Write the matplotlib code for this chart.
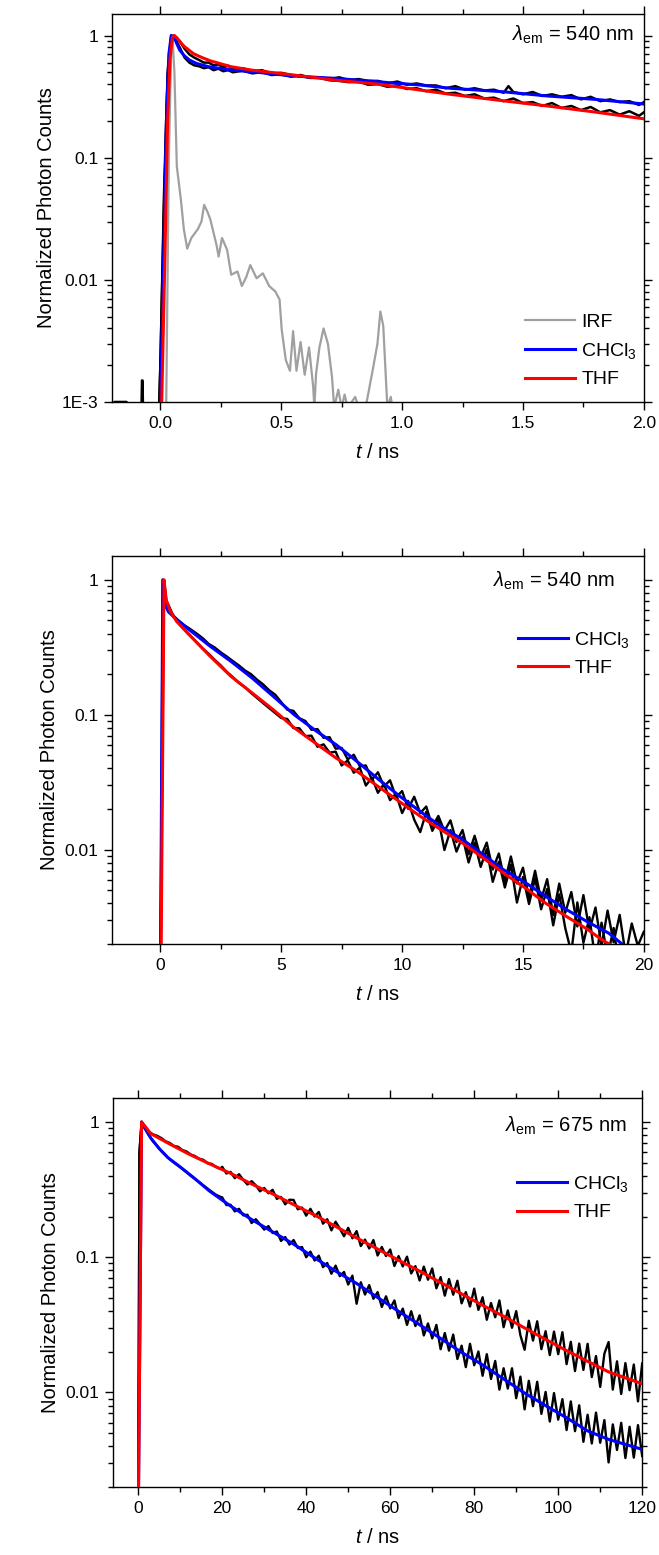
import numpy as np
import matplotlib.pyplot as plt
from matplotlib.ticker import FixedLocator, FixedFormatter, LogLocator, MultipleLocator, NullFormatter

plt.rcParams['font.family'] = ['Liberation Sans', 'DejaVu Sans']
plt.rcParams['mathtext.fontset'] = 'custom'
plt.rcParams['mathtext.rm'] = 'Liberation Sans'
plt.rcParams['mathtext.it'] = 'Liberation Sans:italic'

# ---- panel 1 : short time window (em 540 nm) ----
p1_irf_t = [0.024, 0.035, 0.045, 0.05, 0.058, 0.068, 0.085, 0.097, 0.111, 0.128, 0.155, 0.17, 0.181,
            0.195, 0.207, 0.233, 0.241, 0.255, 0.276, 0.293, 0.319, 0.337, 0.355, 0.372, 0.398, 0.424,
            0.45, 0.476, 0.493, 0.502, 0.519, 0.536, 0.549, 0.563, 0.58, 0.597, 0.615, 0.632, 0.637,
            0.644, 0.658, 0.675, 0.693, 0.71, 0.719, 0.736, 0.75, 0.762, 0.775, 0.806, 0.82, 0.849,
            0.863, 0.88, 0.898, 0.91, 0.922, 0.932, 0.939, 0.953, 0.96]
p1_irf = [0.0009, 0.1, 0.8, 1.0, 0.5, 0.085, 0.045, 0.026, 0.018, 0.022, 0.026, 0.03, 0.041,
          0.036, 0.031, 0.019, 0.0155, 0.022, 0.0176, 0.011, 0.0117, 0.0089, 0.0105, 0.0132, 0.0103, 0.0113,
          0.0089, 0.008, 0.0069, 0.0039, 0.0022, 0.0018, 0.0038, 0.0018, 0.0031, 0.00167, 0.0028, 0.00134, 0.0009,
          0.0017, 0.0028, 0.004, 0.003, 0.0016, 0.0009, 0.00126, 0.0009, 0.00115, 0.0009, 0.0011, 0.0009, 0.0009,
          0.00126, 0.0019, 0.003, 0.0055, 0.0042, 0.0017, 0.0009, 0.0011, 0.0009]

p1_chcl3_fit_t = [0.0, 0.015, 0.025, 0.035, 0.045, 0.06, 0.08, 0.1, 0.12, 0.15, 0.2, 0.3, 0.38, 0.55,
                  0.73, 0.9, 1.075, 1.2, 1.42, 1.6, 1.8, 2.0]
p1_chcl3_fit = [0.0009, 0.02, 0.2, 0.7, 1.0, 0.93, 0.76, 0.68, 0.63, 0.59, 0.555, 0.52, 0.505, 0.466,
                0.445, 0.418, 0.393, 0.37, 0.346, 0.32, 0.30, 0.275]
p1_thf_fit_t = [0.005, 0.02, 0.03, 0.04, 0.05, 0.058, 0.07, 0.085, 0.1, 0.137, 0.172, 0.207, 0.293, 0.38,
                0.554, 0.727, 0.9, 1.0, 1.2, 1.4, 1.6, 1.8, 2.0]
p1_thf_fit = [0.0009, 0.02, 0.2, 0.65, 0.97, 1.0, 0.95, 0.87, 0.81, 0.71, 0.66, 0.62, 0.555, 0.52,
              0.474, 0.43, 0.40, 0.375, 0.33, 0.295, 0.265, 0.236, 0.208]

p1_data_chcl3_t = [-0.2, -0.19, -0.14, -0.135, -0.078, -0.076, -0.074, -0.072, -0.005, 0.0, 0.015, 0.03, 0.045,
                   0.06, 0.08, 0.1, 0.12, 0.14, 0.16, 0.18, 0.2, 0.22, 0.24, 0.26, 0.28, 0.3, 0.34, 0.38,
                   0.42, 0.46, 0.5, 0.54, 0.58, 0.62, 0.66, 0.7, 0.74, 0.78, 0.82, 0.86, 0.9, 0.94, 0.98,
                   1.02, 1.06, 1.1, 1.14, 1.18, 1.22, 1.26, 1.3, 1.34, 1.38, 1.42, 1.44, 1.46, 1.5, 1.54,
                   1.58, 1.62, 1.66, 1.7, 1.74, 1.78, 1.82, 1.86, 1.9, 1.94, 1.98, 2.0]
p1_data_chcl3 = [0.0009, 0.001, 0.001, 0.0009, 0.0009, 0.0015, 0.0015, 0.0009, 0.0009, 0.002, 0.05, 0.5, 1.0,
                 0.95, 0.8, 0.66, 0.6, 0.57, 0.56, 0.54, 0.55, 0.52, 0.535, 0.51, 0.52, 0.5, 0.515, 0.49,
                 0.5, 0.475, 0.48, 0.46, 0.475, 0.45, 0.455, 0.44, 0.455, 0.43, 0.44, 0.425, 0.425, 0.405, 0.42,
                 0.395, 0.405, 0.39, 0.39, 0.37, 0.385, 0.36, 0.37, 0.355, 0.36, 0.34, 0.385, 0.345, 0.33, 0.345,
                 0.32, 0.33, 0.315, 0.325, 0.3, 0.315, 0.29, 0.3, 0.285, 0.29, 0.27, 0.285]
p1_data_thf_t = [-0.005, 0.0, 0.015, 0.03, 0.045, 0.055, 0.08, 0.1, 0.12, 0.14, 0.16, 0.18, 0.2, 0.22,
                 0.24, 0.26, 0.28, 0.3, 0.34, 0.38, 0.42, 0.46, 0.5, 0.54, 0.58, 0.62, 0.66, 0.7, 0.74,
                 0.78, 0.82, 0.86, 0.9, 0.94, 0.98, 1.02, 1.06, 1.1, 1.14, 1.18, 1.22, 1.26, 1.3, 1.34,
                 1.38, 1.42, 1.46, 1.5, 1.54, 1.58, 1.62, 1.66, 1.7, 1.74, 1.78, 1.82, 1.86, 1.9, 1.94,
                 1.98, 2.0]
p1_data_thf = [0.0009, 0.002, 0.04, 0.45, 0.95, 1.0, 0.9, 0.78, 0.7, 0.66, 0.63, 0.6, 0.6, 0.57,
               0.58, 0.55, 0.565, 0.53, 0.54, 0.51, 0.52, 0.49, 0.495, 0.475, 0.465, 0.45, 0.45, 0.43, 0.425,
               0.415, 0.42, 0.395, 0.4, 0.38, 0.39, 0.365, 0.37, 0.35, 0.36, 0.335, 0.34, 0.32, 0.33, 0.305,
               0.31, 0.29, 0.305, 0.28, 0.285, 0.265, 0.28, 0.255, 0.265, 0.245, 0.26, 0.235, 0.245, 0.225, 0.24,
               0.22, 0.235]

# ---- panel 2 : 20 ns window (em 540 nm) ----
p2_chcl3_fit_t = [0.0, 0.1, 0.24, 0.33, 0.68, 1.2, 2.07, 2.93, 3.8, 4.67, 5.54, 6.41, 7.27, 8.14, 9.01,
                  9.88, 10.75, 11.6, 12.5, 13.35, 14.2, 15.1, 15.95, 16.8, 17.7, 18.56, 19.1]
p2_chcl3_fit = [0.001, 1.0, 0.63, 0.58, 0.506, 0.426, 0.321, 0.248, 0.187, 0.137, 0.1, 0.0766, 0.06, 0.045, 0.0334,
                0.0251, 0.0192, 0.0149, 0.0119, 0.0092, 0.0071, 0.0057, 0.0045, 0.0036, 0.0029, 0.0024, 0.002]
p2_thf_fit_t = [0.02, 0.15, 0.24, 0.42, 0.68, 1.2, 2.07, 2.93, 3.8, 4.67, 5.54, 6.41, 7.27, 8.14, 9.01,
                9.88, 10.75, 11.6, 12.5, 13.35, 14.2, 15.1, 15.95, 16.8, 17.7, 18.2, 18.56]
p2_thf_fit = [0.001, 1.0, 0.71, 0.58, 0.49, 0.39, 0.27, 0.192, 0.145, 0.109, 0.08, 0.0617, 0.0478, 0.038, 0.0294,
              0.0228, 0.0177, 0.0141, 0.0112, 0.0087, 0.0067, 0.0052, 0.004, 0.0032, 0.00255, 0.00219, 0.002]

p2_data_chcl3_t = [0.0, 0.1, 0.25, 0.5, 0.75, 1.0, 1.25, 1.5, 1.75, 2.0, 2.25, 2.5, 2.75, 3.0, 3.25, 3.5,
                   3.75, 4.0, 4.25, 4.5, 4.75, 5.0, 5.25, 5.5, 5.75, 6.0, 6.25, 6.5, 6.75, 7.0, 7.25, 7.5,
                   7.75, 8.0, 8.25, 8.5, 8.75, 9.0, 9.25, 9.5, 9.75, 10.0, 10.25, 10.5, 10.75, 11.0, 11.25,
                   11.5, 11.75, 12.0, 12.25, 12.5, 12.75, 13.0, 13.25, 13.5, 13.75, 14.0, 14.25, 14.5, 14.75,
                   15.0, 15.25, 15.5, 15.75, 16.0, 16.25, 16.5, 16.75, 17.0, 17.25, 17.5, 17.75, 18.0, 18.25,
                   18.5, 18.75, 19.0, 19.25, 19.5, 19.75, 20.0]
p2_data_chcl3 = [0.001, 1.0, 0.62, 0.55, 0.5, 0.46, 0.43, 0.40, 0.37, 0.335, 0.315, 0.29, 0.27, 0.25, 0.232, 0.213,
                 0.2, 0.182, 0.168, 0.152, 0.141, 0.124, 0.109, 0.107, 0.0942, 0.0899, 0.0774, 0.0783, 0.0675, 0.0682,
                 0.0561, 0.0568, 0.0467, 0.0506, 0.0416, 0.0421, 0.033, 0.0375, 0.0294, 0.0327, 0.0245, 0.0272, 0.0201,
                 0.0247, 0.0187, 0.0209, 0.0148, 0.0178, 0.0138, 0.0165, 0.0114, 0.014, 0.00925, 0.0127, 0.00879,
                 0.0113, 0.00713, 0.00938, 0.00577, 0.00891, 0.00562, 0.00736, 0.00438, 0.00698, 0.00425, 0.00605,
                 0.00328, 0.00561, 0.00341, 0.00486, 0.0027, 0.00461, 0.0025, 0.00373, 0.00193, 0.00354, 0.00206,
                 0.00329, 0.00166, 0.00284, 0.00194, 0.00247]
p2_data_thf_t = [0.0, 0.15, 0.25, 0.5, 0.75, 1.0, 1.25, 1.5, 1.75, 2.0, 2.25, 2.5, 2.75, 3.0, 3.25, 3.5,
                 3.75, 4.0, 4.25, 4.5, 4.75, 5.0, 5.25, 5.5, 5.75, 6.0, 6.25, 6.5, 6.75, 7.0, 7.25, 7.5,
                 7.75, 8.0, 8.25, 8.5, 8.75, 9.0, 9.25, 9.5, 9.75, 10.0, 10.25, 10.5, 10.75, 11.0, 11.25,
                 11.5, 11.75, 12.0, 12.25, 12.5, 12.75, 13.0, 13.25, 13.5, 13.75, 14.0, 14.25, 14.5, 14.75,
                 15.0, 15.25, 15.5, 15.75, 16.0, 16.25, 16.5, 16.75, 17.0, 17.25, 17.5, 17.75, 18.0, 18.25,
                 18.5, 18.75, 19.0]
p2_data_thf = [0.001, 1.0, 0.7, 0.56, 0.48, 0.43, 0.385, 0.345, 0.31, 0.283, 0.255, 0.232, 0.208, 0.19, 0.172, 0.16,
               0.145, 0.133, 0.122, 0.112, 0.103, 0.0946, 0.0931, 0.0798, 0.0794, 0.0695, 0.07, 0.0579, 0.0604, 0.0524,
               0.0533, 0.0421, 0.0459, 0.0372, 0.0406, 0.0299, 0.0342, 0.0264, 0.0308, 0.0233, 0.026, 0.0187, 0.023,
               0.0167, 0.0135, 0.0191, 0.0138, 0.0169, 0.00995, 0.014, 0.00968, 0.0125, 0.00804, 0.0113, 0.00746,
               0.0101, 0.00578, 0.00815, 0.00525, 0.00776, 0.00406, 0.00628, 0.00396, 0.00614, 0.00362, 0.00512,
               0.00275, 0.00467, 0.00262, 0.00173, 0.00407, 0.00204, 0.00316, 0.00148, 0.00288, 0.00162, 0.00263,
               0.00126]

# ---- panel 3 : 120 ns window (em 675 nm) ----
p3_chcl3_fit_t = [0.0, 0.8, 3, 5, 7, 10, 13, 17, 22, 27, 32, 37, 42, 47, 52, 57, 62, 67, 72, 77, 82, 87,
                  92, 97, 102, 107, 112, 120]
p3_chcl3_fit = [0.001, 1.0, 0.76, 0.636, 0.547, 0.465, 0.392, 0.308, 0.239, 0.19, 0.154, 0.125, 0.099, 0.079,
                0.064, 0.0504, 0.0398, 0.0317, 0.0251, 0.0198, 0.016, 0.0126, 0.0099, 0.008, 0.0065, 0.0052,
                0.0045, 0.0038]
p3_thf_fit_t = [0.0, 0.8, 3, 7, 12, 17, 22, 27, 32, 37, 42, 47, 52, 57, 62, 67, 72, 77, 82, 87, 92, 97,
                102, 107, 112, 120]
p3_thf_fit = [0.001, 1.0, 0.82, 0.70, 0.58, 0.49, 0.417, 0.348, 0.294, 0.245, 0.205, 0.169, 0.139, 0.115,
              0.095, 0.079, 0.065, 0.0536, 0.0441, 0.0366, 0.030, 0.0247, 0.0204, 0.017, 0.0142, 0.0116]

p3_data_thf_t = [0.0, 0.3, 0.8, 1.5, 2.5, 3.5, 4.5, 5.5, 6.5, 7.5, 8.5, 9.5, 10.5, 11.5, 12.5, 13.5, 14.5,
                 15.5, 16.5, 17.5, 18.5, 19.5,
                 20, 21, 22, 23, 24, 25, 26, 27, 28, 29, 30, 31, 32, 33, 34, 35, 36, 37, 38, 39, 40, 41, 42,
                 43, 44, 45, 46, 47, 48, 49, 50, 51, 52, 53, 54, 55, 56, 57, 58, 59, 60, 61, 62, 63, 64, 65,
                 66, 67, 68, 69, 70, 71, 72, 73, 74, 75, 76, 77, 78, 79, 80, 81, 82, 83, 84, 85, 86, 87, 88,
                 89, 90, 91, 92, 93, 94, 95, 96, 97, 98, 99, 100, 101, 102, 103, 104, 105, 106, 107, 108,
                 109, 110, 111, 112, 113, 114, 115, 116, 117, 118, 119, 120]
p3_data_thf = [0.001, 0.6, 1.0, 0.93, 0.85, 0.81, 0.79, 0.76, 0.72, 0.70, 0.665, 0.655, 0.62, 0.605, 0.575, 0.56,
               0.535, 0.525, 0.495, 0.49, 0.465, 0.45,
               0.466, 0.416, 0.427, 0.384, 0.411, 0.374, 0.345, 0.365, 0.34, 0.307, 0.325, 0.297, 0.315, 0.27,
               0.279, 0.246, 0.266, 0.265, 0.226, 0.233, 0.203, 0.228, 0.2, 0.216, 0.177, 0.191, 0.158, 0.183,
               0.163, 0.143, 0.165, 0.138, 0.156, 0.121, 0.135, 0.116, 0.134, 0.103, 0.119, 0.102, 0.114, 0.0861,
               0.102, 0.0855, 0.101, 0.0759, 0.0859, 0.0673, 0.0853, 0.0682, 0.0826, 0.0589, 0.0713, 0.052, 0.069,
               0.0528, 0.067, 0.0456, 0.0552, 0.0432, 0.0586, 0.0408, 0.0506, 0.0345, 0.0459, 0.036, 0.0479, 0.0304,
               0.0404, 0.0301, 0.0399, 0.0265, 0.0207, 0.0339, 0.0242, 0.0336, 0.0209, 0.0284, 0.0189, 0.0282,
               0.0192, 0.0279, 0.0162, 0.0237, 0.0144, 0.023, 0.0147, 0.0229, 0.013, 0.0186, 0.011, 0.0194, 0.0236,
               0.0105, 0.017, 0.00975, 0.0165, 0.0104, 0.0161, 0.0086, 0.0164]
p3_data_chcl3_t = [0.0, 0.3, 0.8, 1.5, 2.5, 3.5, 4.5, 5.5, 6.5, 7.5, 8.5, 9.5, 10.5, 11.5, 12.5, 13.5, 14.5,
                   15.5, 16.5, 17.5, 18.5, 19.5,
                   20, 21, 22, 23, 24, 25, 26, 27, 28, 29, 30, 31, 32, 33, 34, 35, 36, 37, 38, 39, 40, 41, 42,
                   43, 44, 45, 46, 47, 48, 49, 50, 51, 52, 53, 54, 55, 56, 57, 58, 59, 60, 61, 62, 63, 64, 65,
                   66, 67, 68, 69, 70, 71, 72, 73, 74, 75, 76, 77, 78, 79, 80, 81, 82, 83, 84, 85, 86, 87, 88,
                   89, 90, 91, 92, 93, 94, 95, 96, 97, 98, 99, 100, 101, 102, 103, 104, 105, 106, 107, 108,
                   109, 110, 111, 112, 113, 114, 115, 116, 117, 118, 119, 120]
p3_data_chcl3 = [0.001, 0.6, 1.0, 0.9, 0.8, 0.72, 0.665, 0.61, 0.57, 0.53, 0.5, 0.475, 0.45, 0.425, 0.4, 0.38,
                 0.36, 0.34, 0.322, 0.305, 0.29, 0.28,
                 0.277, 0.243, 0.244, 0.218, 0.228, 0.204, 0.206, 0.179, 0.191, 0.175, 0.16, 0.17, 0.151, 0.155,
                 0.132, 0.141, 0.124, 0.134, 0.117, 0.119, 0.1, 0.11, 0.0946, 0.1026, 0.0845, 0.0906, 0.0755,
                 0.0867, 0.0724, 0.0778, 0.0628, 0.0731, 0.0453, 0.0653, 0.053, 0.0622, 0.0493, 0.0552, 0.0429,
                 0.0514, 0.0418, 0.0479, 0.0355, 0.0417, 0.0316, 0.0399, 0.031, 0.0372, 0.0264, 0.0324, 0.0251,
                 0.0316, 0.0209, 0.0275, 0.0204, 0.0268, 0.0177, 0.0222, 0.0154, 0.0229, 0.0159, 0.0201, 0.0133,
                 0.0192, 0.0126, 0.0171, 0.0105, 0.0151, 0.0107, 0.0151, 0.00908, 0.0131, 0.0075, 0.0122, 0.00793,
                 0.012, 0.00695, 0.0101, 0.0061, 0.0099, 0.0063, 0.00893, 0.00528, 0.00859, 0.00518, 0.00804,
                 0.00432, 0.00685, 0.0042, 0.0071, 0.00425, 0.00625, 0.00304, 0.00581, 0.00376, 0.00597, 0.00328,
                 0.00558, 0.0033, 0.00574, 0.00339]

GREY = '#a0a0a0'
BLUE = '#0000ff'
RED = '#ff0000'


def style_axis(ax, xlim, ylim, xmajor, xminor, yticks, ylabels, xfmt):
    ax.set_yscale('log')
    ax.set_xlim(*xlim)
    ax.set_ylim(*ylim)
    ax.xaxis.set_major_locator(MultipleLocator(xmajor))
    ax.xaxis.set_minor_locator(MultipleLocator(xminor))
    ax.xaxis.set_major_formatter(xfmt)
    ax.yaxis.set_major_locator(FixedLocator(yticks))
    ax.yaxis.set_major_formatter(FixedFormatter(ylabels))
    ax.yaxis.set_minor_locator(LogLocator(base=10, subs=np.arange(2, 10)))
    ax.yaxis.set_minor_formatter(NullFormatter())
    ax.tick_params(which='both', direction='out', top=True, right=True, width=1.0, labelsize=12.5)
    ax.tick_params(which='major', length=6, pad=4)
    ax.tick_params(which='minor', length=3.5)
    for s in ax.spines.values():
        s.set_linewidth(1.0)
    ax.set_xlabel('$t$ / ns', fontsize=14.5, labelpad=9)
    ax.set_ylabel('Normalized Photon Counts', fontsize=14.5, labelpad=4)


fig = plt.figure(figsize=(6.59, 15.55), dpi=100)
ax1 = fig.add_axes([0.170, 0.7415, 0.807, 0.2495])
ax2 = fig.add_axes([0.170, 0.3929, 0.807, 0.2495])
ax3 = fig.add_axes([0.1715, 0.0437, 0.803, 0.2501])

leg_kw = dict(frameon=False, fontsize=14, handlelength=2.6, handletextpad=0.3, labelspacing=0.5)

# panel 1
ax1.plot(p1_irf_t, p1_irf, color=GREY, lw=1.6, label='IRF', zorder=2)
ax1.plot(p1_data_chcl3_t, p1_data_chcl3, color='black', lw=1.8, zorder=3)
ax1.plot(p1_data_thf_t, p1_data_thf, color='black', lw=1.8, zorder=3)
ax1.plot(p1_chcl3_fit_t, p1_chcl3_fit, color=BLUE, lw=2.2, label='CHCl$_3$', zorder=4)
ax1.plot(p1_thf_fit_t, p1_thf_fit, color=RED, lw=2.2, label='THF', zorder=5)
style_axis(ax1, (-0.2, 2.0), (1e-3, 1.5), 0.5, 0.25, [1e-3, 0.01, 0.1, 1], ['1E-3', '0.01', '0.1', '1'],
           lambda v, p: f'{v:.1f}')
ax1.text(0.98, 0.945, r'$\lambda_{\mathrm{em}}$ = 540 nm', transform=ax1.transAxes, ha='right', va='center',
         fontsize=14.5)
ax1.legend(loc='lower right', bbox_to_anchor=(1.02, -0.01), **leg_kw)

# panel 2
ax2.plot(p2_data_chcl3_t, p2_data_chcl3, color='black', lw=1.7, zorder=3)
ax2.plot(p2_data_thf_t, p2_data_thf, color='black', lw=1.7, zorder=3)
ax2.plot(p2_chcl3_fit_t, p2_chcl3_fit, color=BLUE, lw=2.2, label='CHCl$_3$', zorder=4)
ax2.plot(p2_thf_fit_t, p2_thf_fit, color=RED, lw=2.2, label='THF', zorder=5)
style_axis(ax2, (-2, 20), (0.002, 1.5), 5, 2.5, [0.01, 0.1, 1], ['0.01', '0.1', '1'],
           lambda v, p: f'{v:.0f}')
ax2.text(0.945, 0.935, r'$\lambda_{\mathrm{em}}$ = 540 nm', transform=ax2.transAxes, ha='right', va='center',
         fontsize=14.5)
ax2.legend(loc='upper left', bbox_to_anchor=(0.73, 0.855), **leg_kw)

# panel 3
ax3.plot(p3_data_chcl3_t, p3_data_chcl3, color='black', lw=1.7, zorder=3)
ax3.plot(p3_data_thf_t, p3_data_thf, color='black', lw=1.7, zorder=3)
ax3.plot(p3_chcl3_fit_t, p3_chcl3_fit, color=BLUE, lw=2.2, label='CHCl$_3$', zorder=4)
ax3.plot(p3_thf_fit_t, p3_thf_fit, color=RED, lw=2.2, label='THF', zorder=5)
style_axis(ax3, (-6, 120), (0.002, 1.5), 20, 10, [0.01, 0.1, 1], ['0.01', '0.1', '1'],
           lambda v, p: f'{v:.0f}')
ax3.text(0.97, 0.93, r'$\lambda_{\mathrm{em}}$ = 675 nm', transform=ax3.transAxes, ha='right', va='center',
         fontsize=14.5)
ax3.legend(loc='upper left', bbox_to_anchor=(0.73, 0.85), **leg_kw)

fig.savefig('out.png', dpi=100)
